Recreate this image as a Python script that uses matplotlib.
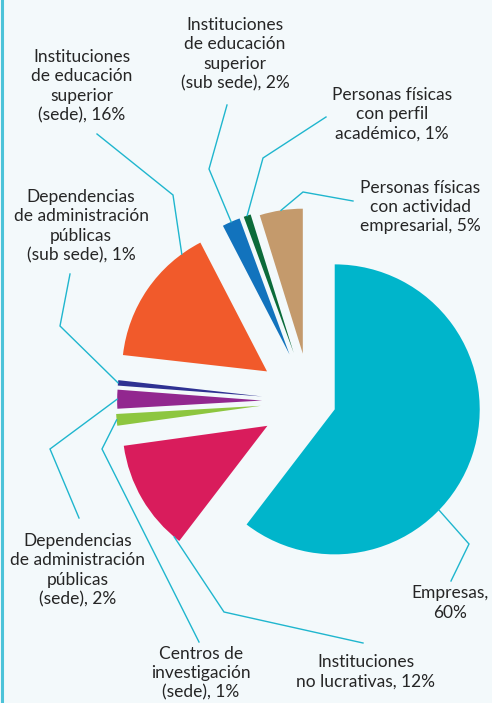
import numpy as np
import matplotlib.pyplot as plt
from matplotlib.lines import Line2D

plt.rcParams['font.family'] = ['Lato', 'DejaVu Sans']

categorias = [
    'Empresas',
    'Instituciones no lucrativas',
    'Centros de investigación (sede)',
    'Dependencias de administración públicas (sede)',
    'Dependencias de administración públicas (sub sede)',
    'Instituciones de educación superior (sede)',
    'Instituciones de educación superior (sub sede)',
    'Personas físicas con perfil académico',
    'Personas físicas con actividad empresarial',
]
porcentajes = [60.4, 12.4, 1.3, 2.1, 0.6, 15.6, 2.0, 0.8, 4.8]
etiquetas = [
    'Empresas,\n60%',
    'Instituciones\nno lucrativas, 12%',
    'Centros de\ninvestigación\n(sede), 1%',
    'Dependencias\nde administración\npúblicas\n(sede), 2%',
    'Dependencias\nde administración\npúblicas\n(sub sede), 1%',
    'Instituciones\nde educación\nsuperior\n(sede), 16%',
    'Instituciones\nde educación\nsuperior\n(sub sede), 2%',
    'Personas físicas\ncon perfil\nacadémico, 1%',
    'Personas físicas\ncon actividad\nempresarial, 5%',
]
colores = ['#00b5cb', '#d91c5c', '#8dc63f', '#92278f', '#2e3192',
           '#f15a2b', '#1273bd', '#0b6b3a', '#c49a6c']
explode = [0.18, 0.34, 0.34, 0.33, 0.33, 0.36, 0.35, 0.35, 0.33]

# posiciones de las etiquetas en pixeles de la imagen (x, y hacia abajo)
texto_px = [(450, 603), (366, 672), (201, 673), (78, 570), (81, 226),
            (82, 86), (235, 54), (392, 114), (420, 207)]
codo_px = [(469, 544), (224, 612), (102, 449), (50, 449), (60, 326),
           (173, 195), (209, 169), (263, 158), (303, 192)]
inicio_px = [(451, 581), (363, 643), (199, 642), (79, 518), (70, 274),
             (97, 134), (227, 105), (326, 117), (353, 201)]
angulo_ancla = [-44, -130, None, None, None, 126, None, None, None]

W, H = 492, 703
CX, CY, R = 310, 401, 145


def px(x, y):
    return (x - CX) / R, (CY - y) / R


fondo = '#f3f9fb'
fig = plt.figure(figsize=(W / 100, H / 100), dpi=100, facecolor=fondo)
ax = fig.add_axes([0, 0, 1, 1])
ax.set_facecolor(fondo)

wedges, _ = ax.pie(porcentajes, colors=colores, explode=explode,
                   startangle=90, counterclock=False,
                   wedgeprops=dict(linewidth=0))

ax.set_xlim(-CX / R, (W - CX) / R)
ax.set_ylim((CY - H) / R, CY / R)
ax.set_aspect('equal', adjustable='box')
ax.axis('off')

color_linea = '#1fb6ce'
for w, ang, txt, t, c, s in zip(wedges, angulo_ancla, etiquetas,
                                texto_px, codo_px, inicio_px):
    cx, cy = w.center
    if ang is None:
        ang = (w.theta1 + w.theta2) / 2
    a = np.deg2rad(ang)
    ancla = (cx + w.r * np.cos(a), cy + w.r * np.sin(a))
    xs = [px(*s)[0], px(*c)[0], ancla[0]]
    ys = [px(*s)[1], px(*c)[1], ancla[1]]
    ax.plot(xs, ys, color=color_linea, lw=1.0, solid_joinstyle='miter')
    ax.text(*px(*t), txt, ha='center', va='center', fontsize=12.5,
            color='#262626', linespacing=1.25)

fig.add_artist(Line2D([1.5 / W, 1.5 / W], [0, 1], color='#4cc3d9', lw=2.2,
                      transform=fig.transFigure))

plt.savefig('out.png', dpi=100, facecolor=fondo)
